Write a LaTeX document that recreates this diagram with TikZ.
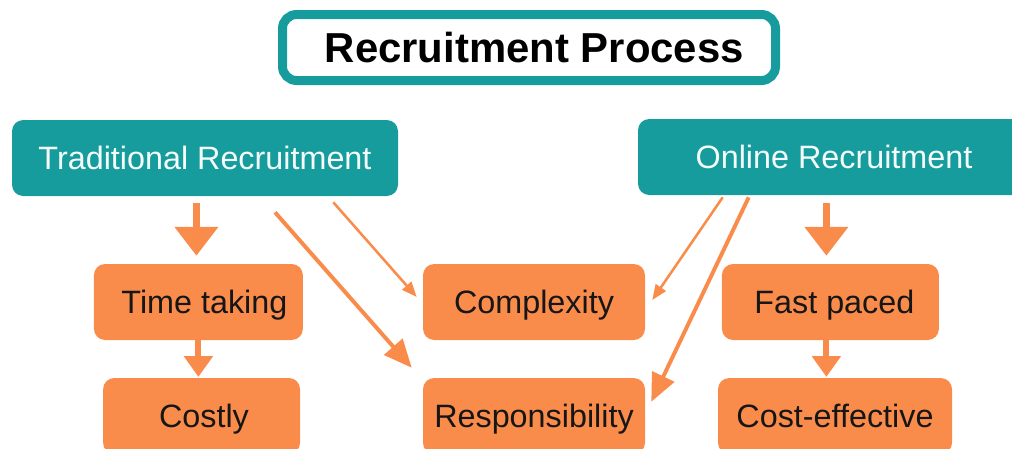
\documentclass[tikz,border=0pt]{standalone}
\usepackage{fontspec}
\setmainfont{Liberation Sans}
\usepackage{tikz}
\usepackage{xcolor}
\usetikzlibrary{arrows.meta,positioning,calc}
\definecolor{Teal}{HTML}{179C9D}
\definecolor{Peach}{HTML}{FA8C4B}
\definecolor{Ink}{HTML}{161616}
\definecolor{Snow}{HTML}{F4FBFB}
\newcommand{\boxfont}{\fontsize{23}{26}\selectfont}

\begin{document}
\begin{tikzpicture}[
  titlebox/.style={rounded corners=10pt,draw=Teal,line width=6.4pt,fill=white,minimum width=12.325cm,minimum height=1.65cm,text height=0.75cm,text depth=0cm,font=\fontsize{29.8}{33}\selectfont\bfseries,text=black},
  kind/.style={rounded corners=8pt,fill=Teal,minimum height=1.9cm,text height=0.58cm,text depth=0cm,font=\boxfont,text=Snow},
  trait/.style={rounded corners=8pt,fill=Peach,minimum height=1.9cm,text height=0.58cm,text depth=0cm,font=\boxfont,text=Ink},
  bigarrow/.style={-{Triangle[width=1.05cm,length=0.72cm]},line width=0.18cm,draw=Peach},
  smallarrow/.style={-{Triangle[width=0.7cm,length=0.52cm]},line width=0.15cm,draw=Peach},
  thinarrow/.style={-{Triangle[width=0.3cm,length=0.38cm]},line width=1.8pt,draw=Peach},
  thickarrow/.style={-{Triangle[width=0.6cm,length=0.7cm]},line width=2.8pt,draw=Peach}
]
\useasboundingbox (0,0) rectangle (25.3,-11.225);
\clip (0,0) rectangle (25.3,-11.225);
\node[titlebox] (title) at (13.225,-1.1875) {\hspace{0.27cm}Recruitment Process};
\node[kind,minimum width=9.65cm] (trad) at (5.125,-3.95) {Traditional Recruitment};
\node[kind,minimum width=9.8cm] (online) at (20.85,-3.925) {Online Recruitment};
\node[trait,minimum width=5.225cm] (timet) at (4.96,-7.55) {\hspace{0.3cm}Time taking};
\node[trait,minimum width=4.925cm] (costly) at (5.04,-10.4) {\hspace{0.12cm}Costly};
\node[trait,minimum width=5.55cm] (cmplx) at (13.35,-7.55) {Complexity};
\node[trait,minimum width=5.55cm] (resp) at (13.35,-10.4) {Responsibility};
\node[trait,minimum width=5.425cm] (fast) at (20.76,-7.55) {\hspace{0.2cm}Fast paced};
\node[trait,minimum width=5.85cm] (cheap) at (20.875,-10.4) {Cost-effective};
\draw[bigarrow,shorten <=0.18cm,shorten >=0.2cm] ([xshift=-0.05cm]timet.north |- trad.south) -- ([xshift=-0.05cm]timet.north);
\draw[bigarrow,shorten <=0.2cm,shorten >=0.2cm] ([xshift=-0.1cm]fast.north |- online.south) -- ([xshift=-0.1cm]fast.north);
\draw[smallarrow,shorten >=0.02cm] (timet.south) -- (timet.south |- costly.north);
\draw[smallarrow,shorten >=0.02cm] ([xshift=-0.1cm]fast.south) -- ([xshift=-0.1cm]fast.south |- cheap.north);
\coordinate (tradA) at ([xshift=-1.625cm,yshift=-0.15cm]trad.south east);
\coordinate (tradB) at ([xshift=1.75cm,yshift=-0.4cm]trad.south);
\coordinate (onlineA) at ([xshift=2.125cm,yshift=-0.05cm]online.south west);
\coordinate (onlineB) at ([xshift=2.775cm,yshift=-0.05cm]online.south west);
\draw[thinarrow] (tradA) -- ([xshift=-0.15cm,yshift=0.125cm]cmplx.west);
\draw[thickarrow] (tradB) -- ([xshift=-0.275cm,yshift=0.25cm]resp.north west);
\draw[thinarrow] (onlineA) -- ([xshift=0.175cm,yshift=0.05cm]cmplx.east);
\draw[thickarrow] (onlineB) -- ([xshift=0.15cm,yshift=-0.6cm]resp.north east);
\end{tikzpicture}
\end{document}
